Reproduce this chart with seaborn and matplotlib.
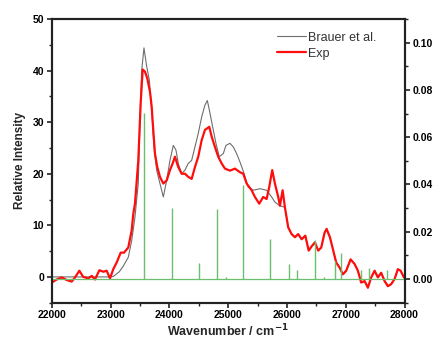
import matplotlib
matplotlib.use("Agg")
import matplotlib.pyplot as plt
import seaborn as sns
import pandas as pd
from matplotlib.ticker import MultipleLocator, FormatStrFormatter

# ---- data ----
exp_x = [22000, 22085, 22170, 22255, 22340, 22396, 22470, 22537, 22622, 22680,
         22736, 22810, 22878, 22935, 22991, 23047, 23105, 23173, 23229, 23302,
         23360, 23387, 23416, 23472, 23513, 23547, 23586, 23625, 23671, 23700,
         23727, 23756, 23795, 23841, 23898, 23955, 24011, 24057, 24096, 24152,
         24210, 24266, 24322, 24380, 24436, 24492, 24550, 24606, 24680, 24720,
         24776, 24832, 24890, 24946, 25031, 25116, 25201, 25258, 25315, 25400,
         25456, 25529, 25597, 25655, 25699, 25750, 25796, 25852, 25881, 25927,
         25966, 26022, 26080, 26136, 26192, 26250, 26313, 26370, 26426, 26476,
         26532, 26584, 26641, 26675, 26731, 26788, 26838, 26896, 26952, 27008,
         27083, 27151, 27207, 27263, 27321, 27377, 27433, 27491, 27547, 27603,
         27661, 27717, 27773, 27831, 27887, 27933, 27990]
exp_y = [-1.1, -0.5, -0.1, -0.6, -0.9, -0.1, 1.2, 0.0, -0.3, 0.2,
         -0.5, 1.3, 1.0, 1.2, -0.3, 1.5, 2.8, 4.7, 4.7, 5.7,
         9.0, 12.2, 14.2, 22.5, 33.7, 40.2, 39.8, 38.5, 35.9, 33.0,
         28.5, 23.9, 21.3, 19.4, 18.1, 18.7, 20.7, 22.0, 23.3, 21.3,
         20.0, 20.0, 19.4, 19.0, 21.3, 23.3, 26.5, 28.5, 29.1, 27.2,
         25.2, 23.3, 22.0, 21.0, 20.6, 21.0, 20.3, 20.0, 18.1, 16.8,
         15.5, 14.2, 15.5, 15.1, 17.4, 20.7, 18.1, 15.5, 13.8, 16.8,
         13.5, 9.6, 8.3, 7.7, 8.3, 7.3, 8.0, 5.1, 6.0, 6.7,
         5.1, 5.7, 8.6, 9.3, 7.7, 5.1, 2.8, 1.8, 0.5, 1.2,
         3.4, 2.5, 1.2, -1.1, -0.8, -2.1, -0.1, 1.2, -0.1, 0.8,
         -0.8, -1.8, -1.4, -0.4, 1.5, 1.2, -0.1]

brauer_x = [22000, 22500, 23000, 23047, 23150, 23217, 23302, 23360, 23416, 23472,
            23500, 23530, 23569, 23615, 23660, 23700, 23739, 23785, 23841, 23898,
            23955, 24011, 24068, 24113, 24152, 24210, 24266, 24322, 24380, 24436,
            24492, 24550, 24606, 24646, 24680, 24737, 24793, 24849, 24918, 24963,
            25031, 25088, 25145, 25201, 25258, 25342, 25428, 25541, 25655, 25740,
            25796, 25881, 25966, 26022, 26080, 26136, 26192, 26250, 26313, 26370,
            26426, 26476, 26532, 26584, 26641, 26675, 26731, 26788, 26838, 26896,
            26952, 27008, 27083, 27151, 27207, 27263, 27321, 27377, 27433, 27491,
            27547, 27603, 27661, 27717, 27773, 27831, 27887, 27933, 27990]
brauer_y = [0.0, 0.0, 0.0, 0.1, 1.0, 2.1, 3.8, 7.0, 11.6, 18.1,
            30.0, 40.0, 44.4, 40.8, 38.2, 32.4, 25.2, 20.7, 18.1, 15.5,
            18.7, 22.6, 25.5, 24.6, 22.0, 20.0, 20.7, 22.0, 22.6, 25.2,
            27.8, 31.0, 33.3, 34.2, 32.4, 29.1, 25.9, 23.3, 23.9, 25.5,
            25.9, 25.2, 23.9, 22.3, 20.5, 17.4, 16.8, 17.1, 16.8, 15.5,
            14.5, 13.8, 13.5, 9.6, 8.3, 7.7, 8.3, 7.3, 8.0, 5.1,
            6.0, 6.7, 5.1, 5.7, 8.6, 9.3, 7.7, 5.1, 2.8, 1.8,
            0.5, 1.2, 3.4, 2.5, 1.2, -1.1, -0.8, -2.1, -0.1, 1.2,
            -0.1, 0.8, -0.8, -1.8, -1.4, -0.4, 1.5, 1.2, -0.1]

stick_x = [23575, 24040, 24505, 24811, 24964, 25258, 25707, 26030, 26177,
           26475, 26631, 26810, 26922, 27263, 27388, 27700]
stick_h = [0.0703, 0.0302, 0.0068, 0.0298, 0.0010, 0.0397, 0.0170, 0.0064,
           0.0037, 0.0167, 0.0007, 0.0075, 0.0110, 0.0037, 0.0045, 0.0037]

labels = ["Brauer et al.", "Exp"]

# ---- style ----
sns.set_style("ticks")
plt.rcParams["font.family"] = ["Liberation Sans", "DejaVu Sans"]

fig = plt.figure(figsize=(4.36, 3.41), dpi=100)
ax = fig.add_axes([0.1186, 0.1123, 0.8092, 0.832])

df_b = pd.DataFrame({"x": brauer_x, "y": brauer_y})
df_e = pd.DataFrame({"x": exp_x, "y": exp_y})
sns.lineplot(data=df_b, x="x", y="y", ax=ax, color="#6e6e6e", lw=0.8,
             label=labels[0], estimator=None)
sns.lineplot(data=df_e, x="x", y="y", ax=ax, color="#ff0d0d", lw=1.6,
             label=labels[1], estimator=None)

ax.set_xlim(22000, 28000)
ax.set_ylim(-5, 50)
ax.xaxis.set_major_locator(MultipleLocator(1000))
ax.xaxis.set_minor_locator(MultipleLocator(500))
ax.yaxis.set_major_locator(MultipleLocator(10))
ax.yaxis.set_minor_locator(MultipleLocator(5))
ax.set_xlabel("Wavenumber / cm$^{\\mathbf{-1}}$", fontsize=9, fontweight="bold", labelpad=2)
ax.set_ylabel("Relative Intensity", fontsize=8.5, fontweight="bold", labelpad=5)

ax2 = ax.twinx()
ax2.vlines(stick_x, 0, stick_h, color="#6cbf6c", lw=1.0)
ax2.hlines(0, 22000, 28000, color="#6cbf6c", lw=0.9)
ax2.set_ylim(-0.01, 0.11)
ax2.yaxis.set_major_locator(MultipleLocator(0.02))
ax2.yaxis.set_minor_locator(MultipleLocator(0.01))
ax2.yaxis.set_major_formatter(FormatStrFormatter("%.2f"))
ax2.set_xlim(22000, 28000)

for a in (ax, ax2):
    for s in a.spines.values():
        s.set_linewidth(1.5)
        s.set_color("#222222")
    a.tick_params(which="major", direction="out", length=3.5, width=1.2,
                  labelsize=7.5, pad=2, colors="#222222")
    a.tick_params(which="minor", direction="out", length=2, width=1.0, colors="#222222")
    for t in a.get_xticklabels() + a.get_yticklabels():
        t.set_fontweight("bold")
        t.set_color("black")

leg = ax.legend(loc="upper left", bbox_to_anchor=(0.638, 0.955), frameon=False,
                fontsize=9, handlelength=2.3, handletextpad=0.2,
                labelspacing=0.3, borderpad=0, borderaxespad=0)
for t in leg.get_texts():
    t.set_color("#333333")

fig.savefig("out.png", dpi=100)
